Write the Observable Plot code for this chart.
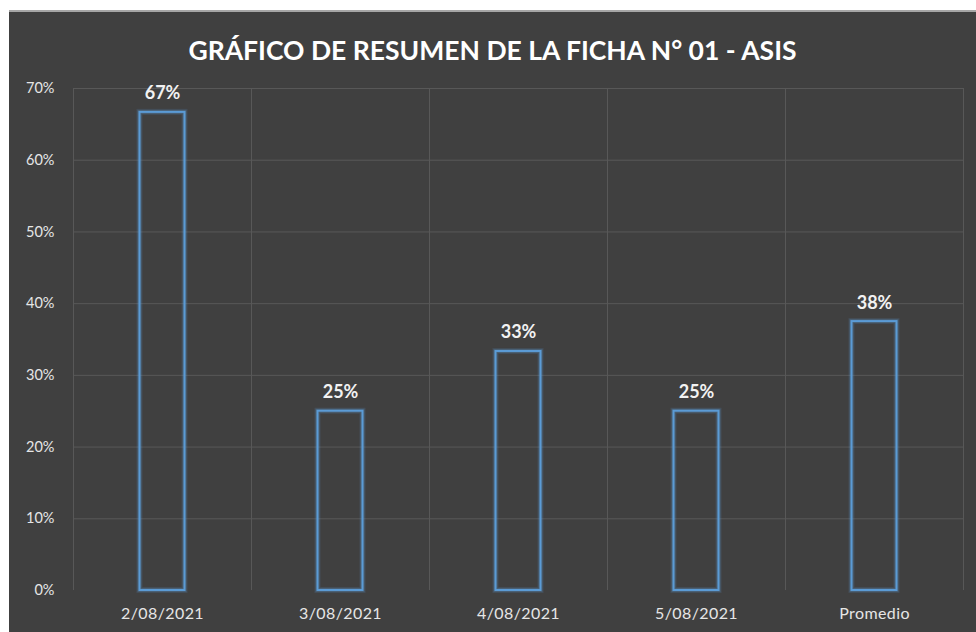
<!DOCTYPE html>
<html>
<head>
<meta charset="utf-8">
<script src="https://cdn.jsdelivr.net/npm/d3@7"></script>
<script src="https://cdn.jsdelivr.net/npm/@observablehq/plot@0.6"></script>
<style>
  html, body { margin: 0; padding: 0; background: #ffffff; }
  #card {
    position: absolute; left: 9px; top: 10px; width: 967px; height: 620px;
    background: #404040; border-top: 2px solid #a6a6a6; overflow: hidden;
  }
  #title {
    height: 52px; line-height: 52px; padding-top: 12px;
    text-align: center; color: #ffffff; font-family: Lato, "Open Sans", sans-serif;
    font-weight: 700; font-size: 26.5px; letter-spacing: 0px;
  }
  svg { display: block; }
</style>
</head>
<body>
<div id="card">
  <div id="title">GRÁFICO DE RESUMEN DE LA FICHA N° 01 - ASIS</div>
  <div id="chart"></div>
</div>
<script>
const categories = ["2/08/2021", "3/08/2021", "4/08/2021", "5/08/2021", "Promedio"];
const values = [0.6667, 0.25, 0.3333, 0.25, 0.375];
const yTicks = [0, 0.1, 0.2, 0.3, 0.4, 0.5, 0.6, 0.7];

const data = categories.map((c, i) => ({category: c, value: values[i]}));
const pct = d3.format(".0%");

const gridColor = "#585858";
const barColor = "#5b9bd5";
const W = 967, ML = 64, MR = 13;
const half = (W - ML - MR) / categories.length / 2;
const inset = half - 22.5;

const chart = Plot.plot({
  width: W,
  height: 556,
  marginTop: 12,
  marginBottom: 42,
  marginLeft: ML,
  marginRight: MR,
  style: {background: "transparent", color: "#e6e6e6", fontFamily: "Lato, 'Open Sans', sans-serif", fontSize: "14.5px"},
  x: {domain: categories, padding: 0, label: null, tickSize: 0, tickPadding: 17},
  y: {domain: [0, 0.7], ticks: yTicks, tickFormat: pct, label: null, tickSize: 0, tickPadding: 19},
  marks: [
    Plot.ruleY(yTicks.filter(t => t > 0), {stroke: gridColor, strokeWidth: 1}),
    Plot.ruleX(categories, {x: d => d, dx: -half, stroke: gridColor, strokeWidth: 1}),
    Plot.ruleX(categories.slice(-1), {x: d => d, dx: half, stroke: gridColor, strokeWidth: 1}),
    Plot.barY(data, {x: "category", y: "value", insetLeft: inset, insetRight: inset, fill: "none", stroke: barColor, strokeWidth: 6, strokeOpacity: 0.15}),
    Plot.barY(data, {x: "category", y: "value", insetLeft: inset, insetRight: inset, fill: "none", stroke: barColor, strokeWidth: 4, strokeOpacity: 0.25}),
    Plot.barY(data, {x: "category", y: "value", insetLeft: inset, insetRight: inset, fill: "none", stroke: barColor, strokeWidth: 2}),
    Plot.text(data, {x: "category", y: "value", text: d => pct(d.value), lineAnchor: "bottom", dy: -13, fill: "#f2f2f2", fontSize: 18, fontWeight: 700})
  ]
});
d3.select(chart).selectAll('[aria-label^="x-axis"] text').style("font-size", "16px").style("letter-spacing", "0.4px");
document.getElementById("chart").appendChild(chart);
</script>
</body>
</html>
